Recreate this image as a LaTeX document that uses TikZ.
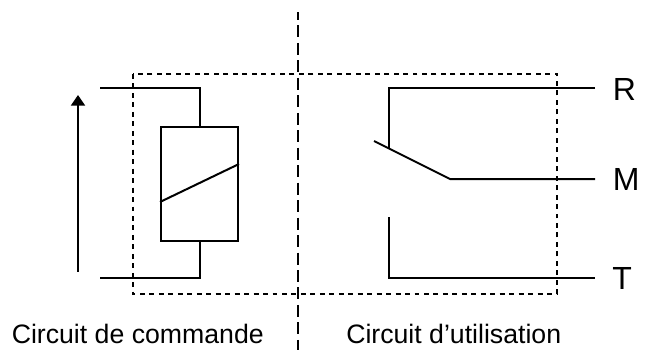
\documentclass[tikz,border=0pt]{standalone}
\usepackage{fontspec}
\usetikzlibrary{arrows.meta}
\setmainfont{Liberation Sans}
\tikzset{
  wire/.style={draw=black,line width=1.5pt,line join=miter},
  axisline/.style={draw=black,line width=1.5pt,dash pattern=on 9pt off 4.1pt,dash phase=3pt},
  boundary/.style={draw=black,line width=1.5pt,dash pattern=on 3.7pt off 3.4pt},
  txt/.style={inner sep=0pt,font=\fontsize{20}{24}\selectfont,text=black},
  terminal/.style={inner sep=0pt,font=\fontsize{24}{28}\selectfont,text=black},
  coil/.style={draw=black,line width=1.5pt,fill=none,minimum width=57.75pt,minimum height=85.5pt,inner sep=0pt}
}
\begin{document}
\begin{tikzpicture}[x=0.75pt,y=-0.75pt]
\useasboundingbox (0,0) rectangle (645,350);
% dashed divider and dotted enclosure
\coordinate (axisT) at (298,12);
\coordinate (axisB) at (298,350);
\draw[axisline] (axisT) -- (axisB);
\coordinate (bTL) at (132.5,74);
\coordinate (bBR) at (557,293.7);
\draw[boundary] (bTL) rectangle (bBR);
% coil
\node[coil] (coil) at (199.5,183.7) {};
\draw[wire] (coil.west |- 0,202) coordinate (dA) -- (coil.east |- 0,164) coordinate (dB);
\coordinate (cT) at (100,88);
\coordinate (cB) at (100,278);
\draw[wire] (cT) -| (coil.north);
\draw[wire] (cB) -| (coil.south);
% voltage arrow
\coordinate (aS) at (78,271.7);
\coordinate (aE) at (78,95);
\draw[draw=black,line width=1.5pt,-{Triangle[length=8pt,width=10.5pt]}] (aS) -- (aE);
% contact
\node[terminal,anchor=base west] (R) at (612.5,100) {R};
\node[terminal,anchor=base west] (M) at (612.7,190.5) {M};
\node[terminal,anchor=base west] (T) at (612,289.5) {T};
\coordinate (rE) at (595,88);
\coordinate (mE) at (595,179);
\coordinate (tE) at (595,278);
\coordinate (rC) at (389,88);
\coordinate (rD) at (389,148.5);
\coordinate (sw) at (374,141);
\coordinate (pv) at (450,179);
\coordinate (tC) at (389,278);
\coordinate (tU) at (389,217);
\draw[wire] (rE) -- (rC) -- (rD);
\draw[wire] (sw) -- (pv) -- (mE);
\draw[wire] (tU) -- (tC) -- (tE);
% captions
\node[txt,anchor=base west] (c1) at (11.5,343) {Circuit de commande};
\node[txt,anchor=base west] (c2) at (346,343) {Circuit d’utilisation};
\end{tikzpicture}
\end{document}
